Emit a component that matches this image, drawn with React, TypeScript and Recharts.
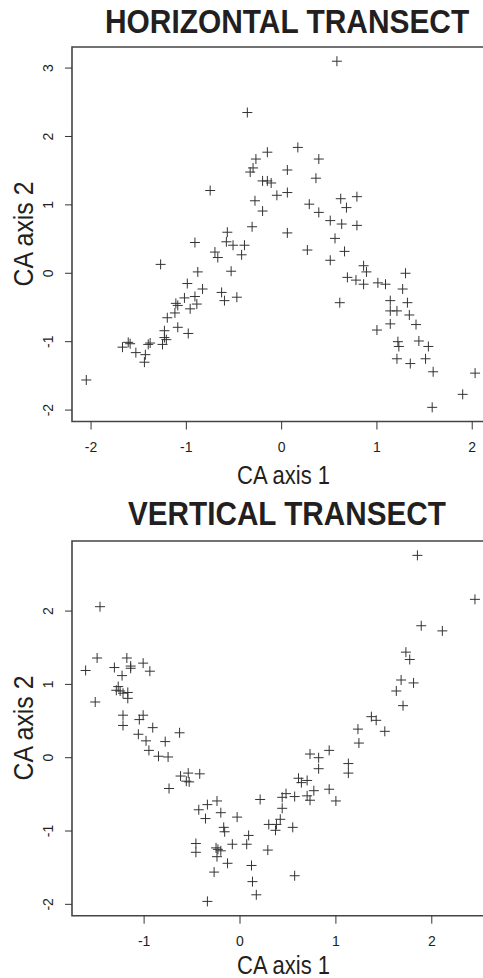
import React from "react";
import { ScatterChart, Scatter, XAxis, YAxis, ReferenceArea } from "recharts";

// HORIZONTAL TRANSECT: site scores on CA axis 1 / CA axis 2
const hAxis1 = [
  -0.75, -0.91, -1.27, -0.88, -0.99, -0.83, -1.02, -0.91, -1.11, -1.09,
  -0.89, -0.96, -1.12, -1.2, -1.09, -0.98, -1.23, -1.23, -1.21, -1.25,
  -1.4, -1.38, -1.43, -1.44, -1.53, -1.61, -1.59, -1.67, -2.05,
  0.58, -0.36, 0.17, -0.15, -0.27, 0.39, -0.3, -0.33, 0.06, 0.36,
  -0.2, -0.15, -0.11, -0.05, 0.06, -0.28, -0.2, 0.29, 0.39, 0.62,
  0.68, 0.51, 0.63, -0.31, 0.06, -0.57, -0.58, -0.51, -0.39, -0.42,
  -0.7, -0.67, 0.27, 0.56, 0.66, 0.51, 0.69, -0.53, -0.63, -0.6,
  -0.47, 0.61,
  0.79, 0.79, 0.86, 0.89, 0.78, 0.86, 1.01, 1.09, 1.3, 1.27,
  1.14, 1.32, 1.14, 1.21, 1.34, 1.41, 1.14, 1.0, 1.22, 1.23,
  1.44, 1.54, 1.21, 1.35, 1.51, 1.59, 2.03, 1.9, 1.58,
];
const hAxis2 = [
  1.21, 0.45, 0.13, 0.02, -0.15, -0.23, -0.36, -0.34, -0.44, -0.47,
  -0.45, -0.52, -0.58, -0.65, -0.79, -0.88, -0.84, -0.94, -0.97, -1.04,
  -1.04, -1.02, -1.19, -1.3, -1.16, -1.01, -1.03, -1.08, -1.56,
  3.1, 2.35, 1.84, 1.77, 1.67, 1.67, 1.54, 1.48, 1.51, 1.39,
  1.35, 1.35, 1.32, 1.14, 1.18, 1.06, 0.91, 1.01, 0.89, 1.09,
  0.96, 0.77, 0.72, 0.68, 0.59, 0.6, 0.46, 0.41, 0.41, 0.27,
  0.31, 0.23, 0.34, 0.51, 0.32, 0.19, -0.06, 0.03, -0.28, -0.4,
  -0.35, -0.43,
  1.12, 0.7, 0.11, 0.02, -0.1, -0.16, -0.14, -0.16, 0.0, -0.23,
  -0.4, -0.43, -0.55, -0.55, -0.61, -0.75, -0.74, -0.83, -1.0, -1.07,
  -0.99, -1.07, -1.25, -1.32, -1.25, -1.44, -1.46, -1.77, -1.96,
];

// VERTICAL TRANSECT
const vAxis1 = [
  1.85, 2.45, -1.46, 1.89, 2.11, -1.49, -1.61, -1.31, -1.18, -1.14,
  -1.14, -1.01, -0.94, -1.23, -1.51, 1.73, 1.77, 1.68, 1.81, 1.63,
  1.7, -1.27, -1.29, -1.25, -1.22, -1.17, -1.17, -1.22, -1.22, -1.05,
  -1.01, -0.91, -1.06, -0.98, -0.63, -0.78, -0.95, -0.85, -0.75, -0.62,
  -0.54, -0.42, -0.56, -0.53, -0.74,
  -0.43, -0.34, -0.24, -0.36, -0.2, -0.03, -0.17, -0.16, -0.46, -0.46,
  -0.25, -0.23, -0.2, -0.24, -0.08, 0.07, 0.09, -0.13, -0.27, 0.12,
  0.13, 0.17, -0.34, 0.21, 0.29, 0.57, 0.3, 0.38, 0.37, 0.42,
  0.44, 0.44, 0.48, 0.57, 0.55, 0.61, 0.64, 0.7, 0.7, 0.73,
  0.77, 0.73, 0.82, 0.82, 0.93, 0.93, 1.0, 1.13, 1.13, 1.23,
  1.24, 1.37, 1.42, 1.51,
];
const vAxis2 = [
  2.76, 2.16, 2.06, 1.8, 1.73, 1.36, 1.19, 1.23, 1.36, 1.22,
  1.25, 1.29, 1.18, 1.12, 0.76, 1.44, 1.34, 1.06, 1.02, 0.91,
  0.71, 0.97, 0.92, 0.91, 0.88, 0.89, 0.81, 0.58, 0.44, 0.52,
  0.58, 0.41, 0.32, 0.23, 0.34, 0.22, 0.1, 0.02, 0.01, -0.25,
  -0.21, -0.22, -0.32, -0.33, -0.42,
  -0.71, -0.64, -0.59, -0.83, -0.75, -0.81, -0.95, -1.01, -1.17, -1.29,
  -1.23, -1.25, -1.27, -1.35, -1.18, -1.18, -1.06, -1.44, -1.56, -1.47,
  -1.69, -1.87, -1.96, -0.57, -1.26, -1.61, -0.91, -0.91, -0.99, -0.84,
  -0.69, -0.54, -0.49, -0.53, -0.95, -0.28, -0.34, -0.31, -0.52, -0.58,
  -0.45, 0.05, 0.0, -0.15, 0.1, -0.43, -0.59, -0.08, -0.21, 0.39,
  0.2, 0.56, 0.51, 0.36,
];

const hTicksX = [-2, -1, 0, 1, 2];
const hTicksY = [-2, -1, 0, 1, 2, 3];
const vTicksX = [-1, 0, 1, 2];
const vTicksY = [-2, -1, 0, 1, 2];

const hDomX: [number, number] = [-2.2, 2.26];
const hDomY: [number, number] = [-2.167, 3.308];
const vDomX: [number, number] = [-1.752, 2.68];
const vDomY: [number, number] = [-2.155, 2.956];

const FONT = "'Liberation Sans', Arial, Helvetica, sans-serif";
const INK = "#231f20";

const hData = hAxis1.map((x, i) => ({ x, y: hAxis2[i] }));
const vData = vAxis1.map((x, i) => ({ x, y: vAxis2[i] }));

function Cross(props: any) {
  const { cx, cy } = props;
  if (cx == null || cy == null) return null;
  return (
    <path
      d={`M${cx - 5},${cy}H${cx + 5}M${cx},${cy - 5}V${cy + 5}`}
      stroke="#333"
      strokeWidth={1}
      fill="none"
    />
  );
}

function XTick(props: any) {
  const { x, y, payload } = props;
  return (
    <text x={x} y={y + 22} textAnchor="middle" fontSize={14} fontFamily={FONT} fill={INK}>
      {payload.value}
    </text>
  );
}

function YTick(props: any) {
  const { x, y, payload } = props;
  const bx = x - 12;
  return (
    <text
      x={bx}
      y={y}
      transform={`rotate(-90, ${bx}, ${y})`}
      textAnchor="middle"
      fontSize={14}
      fontFamily={FONT}
      fill={INK}
    >
      {payload.value}
    </text>
  );
}

function Panel({ data, domX, domY, ticksX, ticksY, height, margin, xHeight }: any) {
  return (
    <ScatterChart width={510} height={height} margin={margin}>
      <XAxis
        type="number"
        dataKey="x"
        domain={domX}
        ticks={ticksX}
        allowDataOverflow
        height={xHeight}
        axisLine={false}
        tickLine={{ stroke: "#333" }}
        tickSize={8}
        tickMargin={0}
        tick={<XTick />}
        interval={0}
      />
      <YAxis
        type="number"
        dataKey="y"
        domain={domY}
        ticks={ticksY}
        allowDataOverflow
        width={72}
        axisLine={false}
        tickLine={{ stroke: "#333" }}
        tickSize={7}
        tickMargin={0}
        tick={<YTick />}
        interval={0}
      />
      <ReferenceArea
        x1={domX[0]}
        x2={domX[1]}
        y1={domY[0]}
        y2={domY[1]}
        fill="none"
        stroke="#444"
        strokeWidth={1.6}
        ifOverflow="visible"
      />
      <Scatter data={data} shape={<Cross />} isAnimationActive={false} />
    </ScatterChart>
  );
}

export default function App() {
  return (
    <div
      style={{
        position: "absolute",
        left: 0,
        top: 0,
        width: 483,
        height: 978,
        overflow: "hidden",
        background: "#fff",
      }}
    >
      <Panel
        data={hData}
        domX={hDomX}
        domY={hDomY}
        ticksX={hTicksX}
        ticksY={hTicksY}
        height={492}
        margin={{ top: 47, right: 13, bottom: 6.5, left: 0 }}
        xHeight={64}
      />
      <Panel
        data={vData}
        domX={vDomX}
        domY={vDomY}
        ticksX={vTicksX}
        ticksY={vTicksY}
        height={486}
        margin={{ top: 49, right: 13, bottom: 2.3, left: 0 }}
        xHeight={60}
      />
      <svg
        width={483}
        height={978}
        style={{ position: "absolute", left: 0, top: 0, pointerEvents: "none" }}
      >
        <g fontFamily={FONT} fill={INK}>
          <text x={0} y={0} transform="translate(105,33) scale(1,1.1)" fontSize={29.9} fontWeight="bold">
            HORIZONTAL TRANSECT
          </text>
          <text x={0} y={0} transform="translate(128,525) scale(1,1.1)" fontSize={29.7} fontWeight="bold">
            VERTICAL TRANSECT
          </text>
          <text x={237} y={484} fontSize={25} textLength={93} lengthAdjust="spacingAndGlyphs">
            CA axis 1
          </text>
          <text x={237} y={974} fontSize={25} textLength={93} lengthAdjust="spacingAndGlyphs">
            CA axis 1
          </text>
          <text
            x={33}
            y={234}
            transform="rotate(-90, 33, 234)"
            textAnchor="middle"
            fontSize={28}
            textLength={105}
            lengthAdjust="spacingAndGlyphs"
          >
            CA axis 2
          </text>
          <text
            x={33}
            y={728}
            transform="rotate(-90, 33, 728)"
            textAnchor="middle"
            fontSize={28}
            textLength={105}
            lengthAdjust="spacingAndGlyphs"
          >
            CA axis 2
          </text>
        </g>
      </svg>
    </div>
  );
}
